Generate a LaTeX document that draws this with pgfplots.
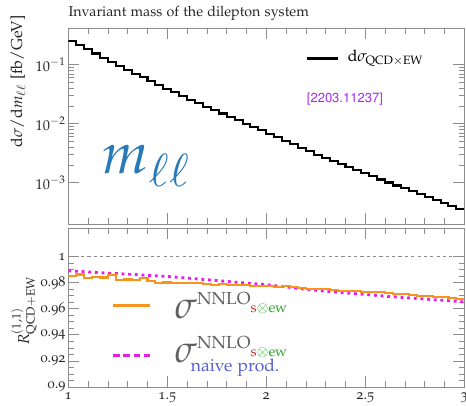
\documentclass[border=0pt]{standalone}
\usepackage[T1]{fontenc}
\usepackage[osf]{mathpazo}
\usepackage{pgfplots}
\usepackage{pgfplotstable}
\pgfplotsset{compat=1.18}
\definecolor{axgray}{RGB}{140,140,140}
\definecolor{lorange}{RGB}{247,148,29}
\definecolor{lmag}{RGB}{232,30,232}
\definecolor{mblue}{RGB}{40,122,184}
\definecolor{siggray}{RGB}{95,95,95}
\definecolor{sred}{RGB}{200,50,40}
\definecolor{sgreen}{RGB}{40,160,40}
\definecolor{nblue}{RGB}{85,95,205}
\definecolor{arxiv}{RGB}{170,40,240}

\pgfplotstableread{
x y
1.00 0.2570
1.04 0.2165
1.08 0.1831
1.12 0.1552
1.16 0.1320
1.20 0.1126
1.24 0.09627
1.28 0.08250
1.32 0.07085
1.36 0.06097
1.40 0.05260
1.44 0.04544
1.48 0.03932
1.52 0.03409
1.56 0.02960
1.60 0.02573
1.64 0.02241
1.68 0.01954
1.72 0.01706
1.76 0.01491
1.80 0.01305
1.84 0.01143
1.88 0.01003
1.92 0.008808
1.96 0.007740
2.00 0.006809
2.04 0.005923
2.08 0.005162
2.12 0.004503
2.16 0.003926
2.20 0.003431
2.24 0.002995
2.28 0.002630
2.32 0.002329
2.36 0.002064
2.40 0.001830
2.44 0.001622
2.48 0.001440
2.52 0.001279
2.56 0.001137
2.60 0.001011
2.64 0.0008997
2.68 0.0008011
2.72 0.0007135
2.76 0.0006357
2.80 0.0005667
2.84 0.0005054
2.88 0.0004511
2.92 0.0004027
2.96 0.0003597
3.00 0.0003597
}\xsec

\pgfplotstableread{
x y
1.00 0.9852
1.04 0.9863
1.08 0.9837
1.12 0.9844
1.16 0.9840
1.20 0.9859
1.24 0.9821
1.28 0.9825
1.32 0.9821
1.36 0.9837
1.40 0.9814
1.44 0.9795
1.48 0.9802
1.52 0.9800
1.56 0.9798
1.60 0.9795
1.64 0.9795
1.68 0.9787
1.72 0.9783
1.76 0.9787
1.80 0.9780
1.84 0.9780
1.88 0.9783
1.92 0.9776
1.96 0.9776
2.00 0.9772
2.04 0.9768
2.08 0.9772
2.12 0.9764
2.16 0.9757
2.20 0.9753
2.24 0.9749
2.28 0.9749
2.32 0.9745
2.36 0.9738
2.40 0.9734
2.44 0.9734
2.48 0.9730
2.52 0.9726
2.56 0.9730
2.60 0.9719
2.64 0.9711
2.68 0.9715
2.72 0.9707
2.76 0.9700
2.80 0.9696
2.84 0.9692
2.88 0.9688
2.92 0.9684
2.96 0.9677
3.00 0.9677
}\ratioorange

\pgfplotstableread{
x y
1.0 0.9892
1.1 0.9883
1.2 0.9873
1.3 0.9866
1.4 0.9857
1.5 0.9848
1.6 0.9836
1.7 0.9823
1.8 0.9810
1.9 0.9797
2.0 0.9785
2.1 0.9768
2.2 0.9750
2.3 0.9735
2.4 0.9722
2.5 0.9710
2.6 0.9697
2.7 0.9686
2.8 0.9675
2.9 0.9664
3.0 0.9653
}\rationaive

\newcommand{\sigleg}{{\color{siggray}\fontsize{24}{24}\selectfont$\sigma$}\raisebox{8.8pt}{\color{siggray}\fontsize{11}{11}\selectfont NNLO\raisebox{-5pt}{\fontsize{9}{9}\selectfont{\color{sred}s}{\color{sgreen}$\otimes$ew}}}}

\pgfplotsset{
  myframe/.style={
    scale only axis, width=249.48pt,
    xmin=1, xmax=3,
    axis line style={axgray},
    every tick/.style={axgray, line width=0.5pt},
    major tick length=7pt, minor tick length=3.5pt,
    tick align=inside,
    tick label style={font=\fontsize{9}{9}\selectfont, black!85},
    yticklabel style={inner xsep=1.5pt},
    label style={font=\fontsize{10}{10}\selectfont, black!85},
    xtick={1,1.5,2,2.5,3}, minor x tick num=4,
  }
}

\begin{document}
\begin{tikzpicture}
\node[anchor=base west, inner sep=0, font=\fontsize{9}{9}\selectfont, black!85] at (43.03pt,-10.52pt) {Invariant mass of the dilepton system};

\begin{axis}[myframe,
  at={(43.03pt,-141.12pt)}, anchor=south west,
  height=123.48pt,
  ymode=log, ymin=2e-4, ymax=0.42,
  ytick={1e-3,1e-2,1e-1}, yminorticks=true,
  xticklabels={},
  ylabel={d$\sigma$/d$m_{\ell\ell}$ [fb/GeV]},
  ylabel style={at={(axis description cs:-0.127,0.727)}, anchor=center},
]
\addplot[black, line width=1.3pt, const plot] table {\xsec};
\addplot[black, line width=1.3pt] coordinates {(2.204,0.1277) (2.364,0.1277)};
\node[anchor=west, inner sep=0, font=\fontsize{10}{10}\selectfont] at (axis cs:2.41,0.1277) {d$\sigma_{\mathrm{QCD}\times\mathrm{EW}}$};
\node[anchor=center, inner sep=0, text=arxiv, font=\fontfamily{phv}\fontsize{8.2}{8.2}\selectfont] at (axis cs:2.397,0.026) {[2203.11237]};
\node[anchor=base west, inner sep=0, text=mblue, font=\fontsize{37}{37}\selectfont] at (axis cs:1.165,0.00141) {$m_{\ell\ell}$};
\end{axis}

\begin{axis}[myframe,
  at={(43.03pt,-243.81pt)}, anchor=south west,
  height=100.17pt,
  ymin=0.9, ymax=1.022,
  ytick={0.9,0.92,0.94,0.96,0.98,1}, minor y tick num=3,
  yticklabels={0.9,0.92,0.94,0.96,0.98,1},
  xticklabels={1,1.5,2,2.5,3},
  ylabel={$R^{(1,1)}_{\mathrm{QCD+EW}}$},
  ylabel style={at={(axis description cs:-0.112,0.478)}, anchor=center},
]
\addplot[axgray, line width=0.5pt, dash pattern=on 2pt off 2pt] coordinates {(1,1) (3,1)};
\addplot[lmag, line width=1.8pt, dash pattern=on 1.8pt off 2.4pt] table {\rationaive};
\addplot[lorange, line width=1.3pt, const plot] table {\ratioorange};
\addplot[lorange, line width=1.6pt] coordinates {(1.226,0.9627) (1.413,0.9627)};
\addplot[lmag, line width=1.8pt, dash pattern=on 4.2pt off 2.3pt] coordinates {(1.226,0.924) (1.413,0.924)};
\node[anchor=base west, inner sep=0] at (axis cs:1.535,0.9529) {\sigleg};
\node[anchor=base west, inner sep=0] at (axis cs:1.535,0.9190) {\sigleg};
\node[anchor=base west, inner sep=0, text=nblue, font=\fontsize{11}{11}\selectfont] at (axis cs:1.618,0.9118) {naive prod.};
\end{axis}

\pgfresetboundingbox
\path[use as bounding box] (0,0) rectangle (293.58pt,-255.78pt);
\end{tikzpicture}
\end{document}
